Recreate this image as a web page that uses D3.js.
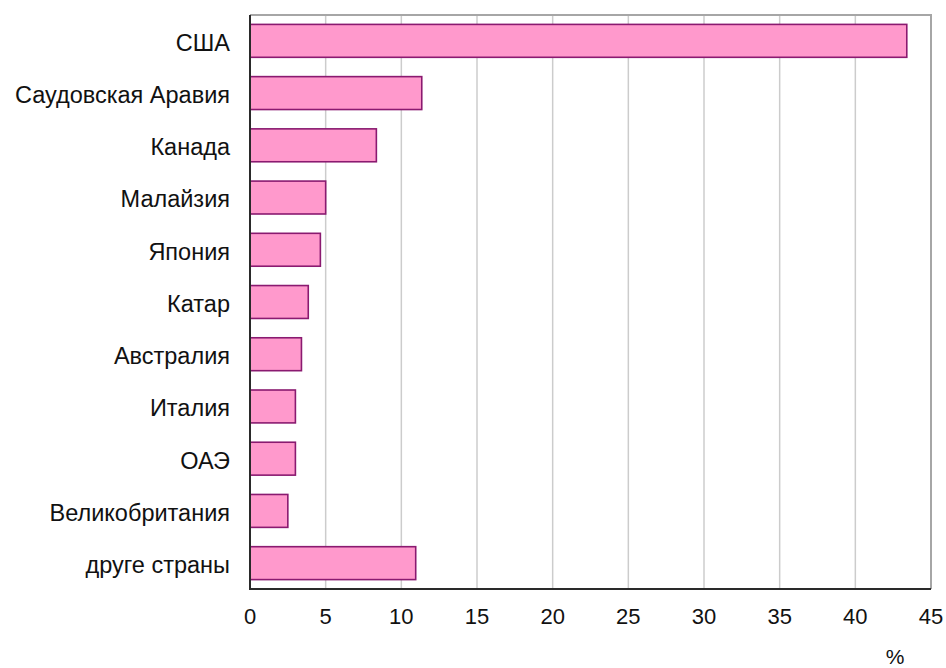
<!DOCTYPE html>
<html><head><meta charset="utf-8">
<script src="https://cdn.jsdelivr.net/npm/d3@7"></script>
<style>body{margin:0;background:#fff}</style>
</head><body>
<svg id="c" width="946" height="668"></svg>
<script>
const categories = ["США","Саудовская Аравия","Канада","Малайзия","Япония","Катар","Австралия","Италия","ОАЭ","Великобритания","друге страны"];
const values = [43.4,11.35,8.35,5.0,4.65,3.85,3.4,3.0,3.0,2.5,10.95];
const xTicks = [0,5,10,15,20,25,30,35,40,45];
const unitLabel = "%";

const svg = d3.select("#c");
const L=250, R=931, T=15, B=589;
const x = d3.scaleLinear().domain([0,45]).range([L,R]);
const y = d3.scaleBand().domain(categories).range([T,B]).paddingInner(0.37).paddingOuter(0.18);

// grid
svg.append("g").selectAll("line").data(xTicks.slice(1,-1)).join("line")
  .attr("x1",d=>x(d)).attr("x2",d=>x(d)).attr("y1",T).attr("y2",B)
  .attr("stroke","#cccccc").attr("stroke-width",1.5);
// top & right border
svg.append("path").attr("d",`M${L},${T}H${R}V${B}`).attr("fill","none").attr("stroke","#a6a6a6").attr("stroke-width",2);

// bars
svg.append("g").selectAll("rect").data(categories).join("rect")
  .attr("x",x(0)).attr("y",d=>y(d))
  .attr("width",(d,i)=>x(values[i])-x(0)).attr("height",y.bandwidth())
  .attr("fill","#ff99cc").attr("stroke","#8a1a70").attr("stroke-width",1.6);

// axes lines
svg.append("path").attr("d",`M${L},${T}V${B}H${R}`).attr("fill","none").attr("stroke","#2a2a2a").attr("stroke-width",2);

const font = "'Liberation Sans', Arial, sans-serif";
// category labels
svg.append("g").selectAll("text").data(categories).join("text")
  .attr("x",230).attr("y",d=>y(d)+y.bandwidth()/2).attr("dy","0.42em")
  .attr("text-anchor","end").attr("font-family",font).attr("font-size",23.5).attr("fill","#111")
  .text(d=>d);
// tick labels
svg.append("g").selectAll("text").data(xTicks).join("text")
  .attr("x",d=>x(d)).attr("y",624)
  .attr("text-anchor","middle").attr("font-family",font).attr("font-size",22).attr("fill","#111")
  .text(d=>d);
svg.append("text").attr("x",895).attr("y",664).attr("text-anchor","middle")
  .attr("font-family",font).attr("font-size",21).attr("fill","#111").text(unitLabel);
</script>
</body></html>
